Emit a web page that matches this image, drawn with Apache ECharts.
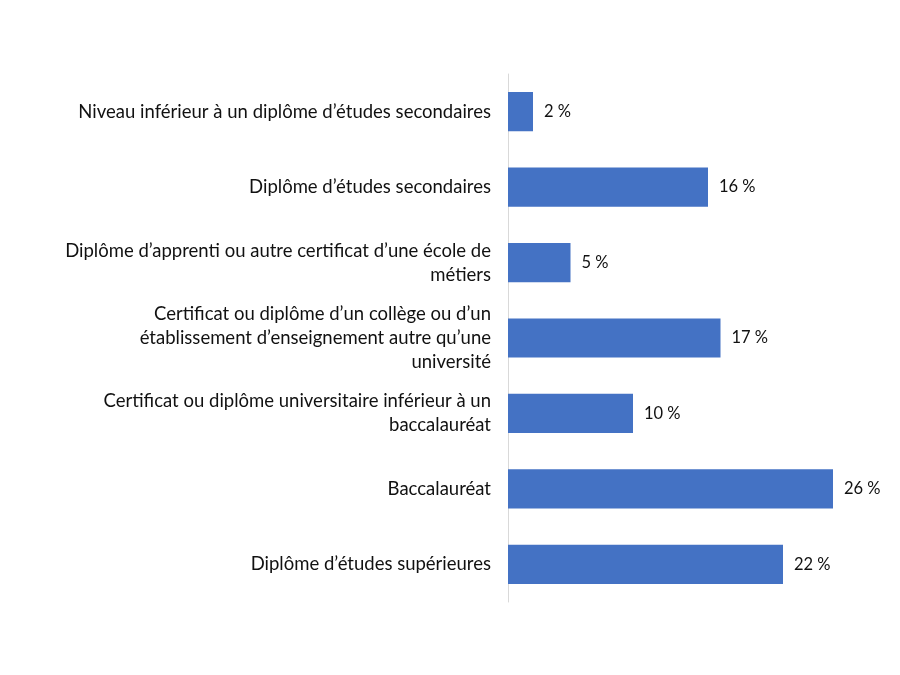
<!DOCTYPE html>
<html>
<head>
<meta charset="utf-8">
<script src="https://cdn.jsdelivr.net/npm/echarts@6/dist/echarts.min.js"></script>
<style>
  html, body { margin: 0; padding: 0; background: #fff; }
  #chart { width: 900px; height: 675px; }
</style>
</head>
<body>
<div id="chart"></div>
<script>
// categories listed top to bottom as in the picture
const categories = [
  "Niveau inférieur à un diplôme d’études secondaires",
  "Diplôme d’études secondaires",
  "Diplôme d’apprenti ou autre certificat d’une école de\nmétiers",
  "Certificat ou diplôme d’un collège ou d’un\nétablissement d’enseignement autre qu’une\nuniversité",
  "Certificat ou diplôme universitaire inférieur à un\nbaccalauréat",
  "Baccalauréat",
  "Diplôme d’études supérieures"
];
const values = [2, 16, 5, 17, 10, 26, 22];

const chart = echarts.init(document.getElementById("chart"));

const option = {
  animation: false,
  textStyle: { fontFamily: "Lato, 'Noto Sans', sans-serif" },
  grid: { left: 508, top: 74, width: 375, height: 528 },
  xAxis: {
    type: "value",
    min: 0,
    max: 30,
    show: false
  },
  yAxis: {
    type: "category",
    inverse: true,
    data: categories,
    axisLine: { show: true, lineStyle: { color: "#d9d9d9", width: 1 } },
    axisTick: { show: false },
    axisLabel: {
      color: "#111",
      fontSize: 18.5,
      lineHeight: 24,
      margin: 17,
      align: "right"
    }
  },
  series: [
    {
      type: "bar",
      data: values,
      barWidth: "52%",
      itemStyle: { color: "#4472c4" },
      label: {
        show: true,
        position: "right",
        distance: 11,
        color: "#111",
        fontSize: 16.5,
        formatter: (p) => p.value + " %"
      }
    }
  ]
};

chart.setOption(option);
</script>
</body>
</html>
